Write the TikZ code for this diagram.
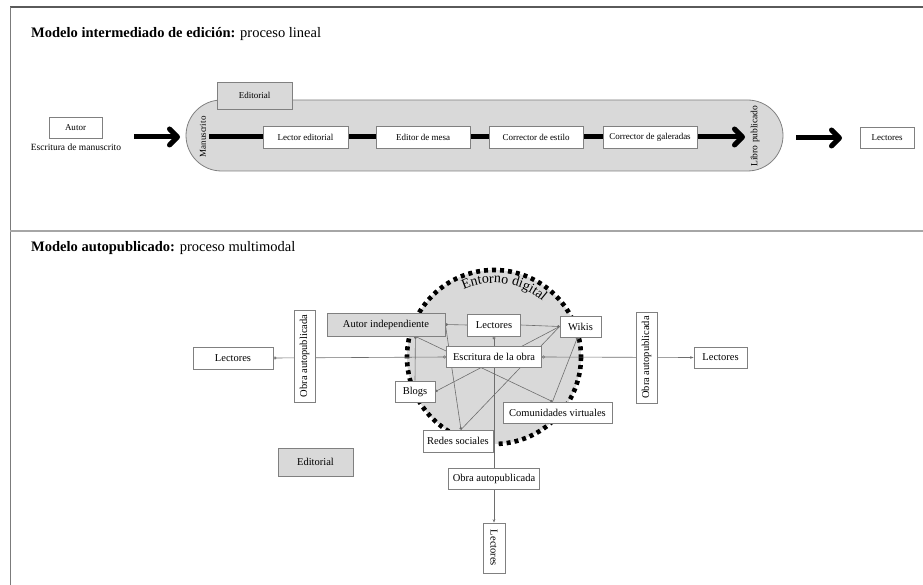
\documentclass[tikz,border=0pt]{standalone}
\usepackage{fontspec}
\setmainfont{Liberation Serif}
\usetikzlibrary{arrows.meta,decorations.text}
\definecolor{fillgrey}{HTML}{D9D9D9}
\definecolor{edgegrey}{HTML}{808080}
\definecolor{framegrey}{HTML}{5A5A5A}
\definecolor{divgrey}{HTML}{A6A6A6}
\definecolor{conngrey}{HTML}{6E6E6E}
\pgfdeclarelayer{background}
\pgfsetlayers{background,main}
\begin{document}
\begin{tikzpicture}[x=1pt,y=-1pt,
  box/.style={draw=edgegrey, line width=0.8pt, fill=white, inner sep=0pt,
    font=\fontsize{9}{10}\selectfont},
  gbox/.style={box, fill=fillgrey},
  bbox/.style={box, font=\fontsize{10.5}{12}\selectfont},
  gbbox/.style={bbox, fill=fillgrey},
  plain/.style={inner sep=0pt, font=\fontsize{9}{10}\selectfont},
  bigarrow/.style={line width=5pt, -{Straight Barb[length=8pt,width=16pt,line cap=round,line join=round]}},
  conn/.style={draw=conngrey, line width=0.6pt},
  dotend/.style={-{Circle[length=2.6pt]}},
  dotstart/.style={{Circle[length=2.6pt]}-},
]
\useasboundingbox (0,0) rectangle (923,585);
% frame
\draw[framegrey, line width=1.3pt] (10,7) coordinate (ftl) -- (923,7) coordinate (ftr);
\draw[framegrey!80, line width=1pt] (ftl) -- (10,585) coordinate (fbl);
\draw[divgrey, line width=1.5pt] (10,231) coordinate (dl) -- (923,231) coordinate (dr);

% ---------- top section ----------
\node[anchor=base west, inner sep=0pt, font=\fontsize{14.5}{16}\selectfont] (title1) at (31,38)
  {\textbf{Modelo intermediado de edición:} proceso lineal};

\begin{pgfonlayer}{background}
\node[draw=edgegrey, line width=0.8pt, fill=fillgrey, rounded corners=35.5pt,
  minimum width=597, minimum height=71, inner sep=0pt] (pill) at (484.5,135.5) {};
\end{pgfonlayer}
\node[gbox, minimum width=75, minimum height=27] (editorial1) at (254.5,95.5) {Editorial};

\node[box, minimum width=53, minimum height=21] (autor) at (75.5,127.5) {Autor};
\node[plain, font=\fontsize{9.5}{11}\selectfont] (escman) at (76,147.5) {Escritura de manuscrito};

\node[plain, rotate=90] (manus) at (203,137) {Manuscrito};
\node[box, minimum width=85, minimum height=22] (lector) at (305.5,137) {Lector editorial};
\node[box, minimum width=94, minimum height=22] (mesa) at (423,137) {Editor de mesa};
\node[box, minimum width=94, minimum height=22] (estilo) at (536,137) {Corrector de estilo};
\node[box, minimum width=94, minimum height=22] (galeradas) at (650,137) {Corrector de galeradas};
\node[plain, rotate=90, font=\fontsize{9.5}{11}\selectfont] (libro) at (755,136) {Libro publicado};
\node[box, minimum width=54, minimum height=21] (lectores1) at (887,137.5) {Lectores};

\coordinate (a1s) at (134,137);
\coordinate (a1e) at (180,137);
\coordinate (ls) at (209,137);
\coordinate (le) at (745,137);
\coordinate (a2s) at (796,138);
\coordinate (a2e) at (842,138);
\draw[bigarrow] (a1s) -- (a1e);
\draw[bigarrow] (a2s) -- (a2e);
\begin{pgfonlayer}{background}
  \draw[bigarrow] (ls) -- (le);
\end{pgfonlayer}

% ---------- bottom section ----------
\node[anchor=base west, inner sep=0pt, font=\fontsize{14.5}{16}\selectfont] (title2) at (31,252)
  {\textbf{Modelo autopublicado:} proceso multimodal};

\coordinate (cc) at (494,357);
\begin{pgfonlayer}{background}
  \fill[fillgrey] (cc) circle[radius=87];
  \draw[black, line width=4.6pt, dash pattern=on 4pt off 4pt] (cc) circle[radius=87];
  \begin{scope}[y=1pt]
    \path[decorate, decoration={text along path, text align=center,
        text={|\fontsize{14}{14}\selectfont|Entorno digital}}]
      (494,-357) ++(128:74) arc[start angle=128, end angle=35, radius=74];
  \end{scope}
\end{pgfonlayer}

\node[gbbox, minimum width=118, minimum height=23] (autorind) at (386,324.5) {Autor independiente};
\node[bbox, minimum width=53, minimum height=22] (lectin) at (494,325) {Lectores};
\node[bbox, minimum width=41, minimum height=21] (wikis) at (580.5,326.5) {Wikis};
\node[bbox, minimum width=95, minimum height=21] (escritura) at (494,357) {Escritura de la obra};
\node[bbox, minimum width=40, minimum height=21] (blogs) at (415,391.5) {Blogs};
\node[bbox, minimum width=109, minimum height=21] (comunidades) at (557.5,412.5) {Comunidades virtuales};
\node[bbox, minimum width=70, minimum height=22] (redes) at (458,441) {Redes sociales};
\node[bbox, minimum width=91, minimum height=21] (obrab) at (494,478.5) {Obra autopublicada};
\node[bbox, rotate=-90, minimum width=50, minimum height=22] (lectb) at (494,548) {Lectores};
\node[gbbox, minimum width=75, minimum height=28] (editorial2) at (315.5,462) {Editorial};
\node[bbox, rotate=90, minimum width=92, minimum height=21] (obral) at (304.5,356) {Obra autopublicada};
\node[bbox, minimum width=80, minimum height=22] (lectl) at (233,358) {Lectores};
\node[bbox, rotate=90, minimum width=91, minimum height=21] (obrar) at (646.5,357.5) {Obra autopublicada};
\node[bbox, minimum width=53, minimum height=21] (lectr) at (720.5,357.5) {Lectores};

\coordinate (aib) at ([xshift=-30pt]autorind.south east);
\coordinate (comtop) at ([xshift=-5pt]comunidades.north);
\coordinate (redtop) at ([xshift=3pt]redes.north);
\coordinate (wikbot) at ([xshift=-3pt]wikis.south);

\begin{pgfonlayer}{background}
  \draw[conn, dotstart] (autorind.east) -- (lectin.west);
  \draw[conn, dotend] (lectin.east) -- (wikis.west);
  \draw[conn, dotstart] (aib) -- (blogs.north);
  \draw[conn, dotend] (aib) -- (comtop);
  \draw[conn, dotend] (autorind.east) -- (redtop);
  \draw[conn, dotend] (wikis.west) -- (blogs.east);
  \draw[conn] (wikis.west) -- (redtop);
  \draw[conn, dotstart] (wikbot) -- (comtop);
  \draw[conn, {Circle[open,length=3pt]}-{Circle[open,length=3pt]}] (lectl.east) -- (escritura.west);
  \draw[conn, {Circle[open,length=3pt]}-{Stealth[length=3.5pt]}] (escritura.east) -- (lectr.west);
  \draw[conn, {Circle[open,length=3pt]}-] (lectin.south) -- (obrab.north);
  \draw[conn, -{Stealth[length=3.5pt]}] (obrab.south) -- (lectb.west);
\end{pgfonlayer}
\end{tikzpicture}
\end{document}
